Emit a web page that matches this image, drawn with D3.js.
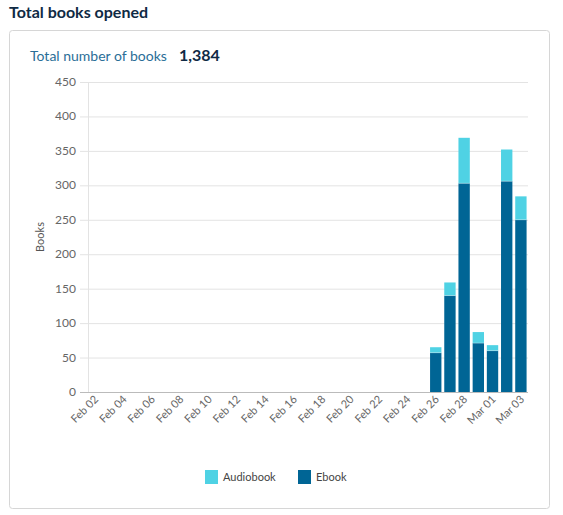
<!DOCTYPE html>
<html><head><meta charset="utf-8">
<script src="https://cdn.jsdelivr.net/npm/d3@7"></script>
<style>body{margin:0;background:#fff;font-family:Lato,"Open Sans",sans-serif}</style>
</head><body><svg id="c" width="563" height="515"></svg>
<script>
const categories = ["Feb 02","Feb 03","Feb 04","Feb 05","Feb 06","Feb 07","Feb 08","Feb 09","Feb 10","Feb 11","Feb 12","Feb 13","Feb 14","Feb 15","Feb 16","Feb 17","Feb 18","Feb 19","Feb 20","Feb 21","Feb 22","Feb 23","Feb 24","Feb 25","Feb 26","Feb 27","Feb 28","Feb 29","Mar 01","Mar 02","Mar 03"];
const ebook =     [0,0,0,0,0,0,0,0,0,0,0,0,0,0,0,0,0,0,0,0,0,0,0,0,57,140,303,71,60,306,250];
const audiobook = [0,0,0,0,0,0,0,0,0,0,0,0,0,0,0,0,0,0,0,0,0,0,0,0,8,19,66,16,8,46,34];
const yTicks = [0,50,100,150,200,250,300,350,400,450];
const seriesNames = ["Audiobook","Ebook"];
const colors = {Ebook:"#006595", Audiobook:"#4fd2e4"};

const svg = d3.select("#c");
svg.append("text").attr("x",9).attr("y",18).attr("font-size",16).attr("font-weight",700).attr("fill","#0f2a44").text("Total books opened");
svg.append("rect").attr("x",9.5).attr("y",30.5).attr("width",540).attr("height",478).attr("rx",3).attr("fill","none").attr("stroke","#d6d6d6");
svg.append("text").attr("x",30).attr("y",61).attr("font-size",14).attr("fill","#2a6e97").text("Total number of books");
const total = d3.sum(ebook)+d3.sum(audiobook);
svg.append("text").attr("x",179).attr("y",61).attr("font-size",16).attr("font-weight",700).attr("fill","#0f2a44").text(d3.format(",")(total));

const x = d3.scaleBand().domain(categories).range([88,528]).paddingInner(0.2).paddingOuter(0.1);
const y = d3.scaleLinear().domain([0,450]).range([392,82]);
const g = svg.append("g");
g.selectAll("line.grid").data(yTicks).join("line").attr("x1",80).attr("x2",528)
 .attr("y1",d=>y(d)+0.5).attr("y2",d=>y(d)+0.5).attr("stroke",d=>d===0?"#bbb":"#e3e3e3");
g.append("line").attr("x1",88.5).attr("x2",88.5).attr("y1",82).attr("y2",392).attr("stroke","#e3e3e3");
g.selectAll("text.yt").data(yTicks).join("text").attr("x",76).attr("y",d=>y(d)+4).attr("text-anchor","end")
 .attr("font-size",12).attr("fill","#666").text(d=>d);
svg.append("text").attr("transform","translate(44,237) rotate(-90)").attr("text-anchor","middle").attr("font-size",11).attr("fill","#555").text("Books");

categories.forEach((c,i)=>{
  if(ebook[i]+audiobook[i]===0) return;
  g.append("rect").attr("x",x(c)).attr("width",x.bandwidth()).attr("y",y(ebook[i])).attr("height",y(0)-y(ebook[i])).attr("fill",colors.Ebook);
  g.append("rect").attr("x",x(c)).attr("width",x.bandwidth()).attr("y",y(ebook[i]+audiobook[i])).attr("height",y(ebook[i])-y(ebook[i]+audiobook[i])).attr("fill",colors.Audiobook);
  g.append("line").attr("x1",x(c)).attr("x2",x(c)+x.bandwidth()).attr("y1",y(ebook[i])).attr("y2",y(ebook[i])).attr("stroke","#fff").attr("stroke-opacity",0.3);
});
categories.forEach((c,i)=>{
  if(i%2) return;
  const cx = x(c)+x.bandwidth()/2;
  g.append("text").attr("transform",`translate(${cx+4},${400}) rotate(-45)`).attr("text-anchor","end")
   .attr("font-size",11).attr("fill","#666").text(c);
});
const leg = svg.append("g");
const lx=[205,298];
seriesNames.forEach((s,i)=>{
  leg.append("rect").attr("x",lx[i]).attr("y",470).attr("width",13).attr("height",14).attr("fill",colors[s]);
  leg.append("text").attr("x",lx[i]+18).attr("y",481).attr("font-size",11).attr("fill","#444").text(s);
});
</script></body></html>
